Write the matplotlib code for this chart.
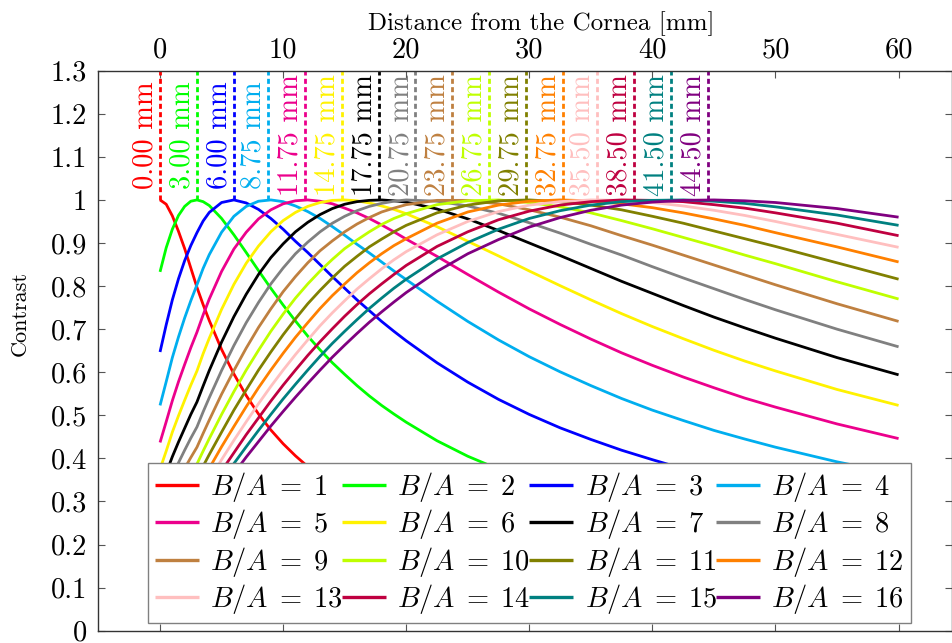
import matplotlib
matplotlib.use("Agg")
import matplotlib.pyplot as plt

plt.rcParams["font.family"] = "cmr10"
plt.rcParams["mathtext.fontset"] = "cm"
plt.rcParams["axes.formatter.use_mathtext"] = True

# distance from the cornea [mm] at which every contrast curve is sampled
distance_mm = [0, 0.5, 1, 1.5, 2, 2.5, 3, 3.5, 4, 5, 6, 7, 8, 9, 10, 11, 12, 13,
               14, 15, 16, 17, 18, 19, 20, 22.5, 25, 27.5, 30, 32.5, 35, 37.5,
               40, 42.5, 45, 47.5, 50, 55, 60]

# contrast for each intensity ratio B/A
contrast_ba1 = [1.000, .990, .963, .927, .887, .842, .797, .757, .720, .653, .596, .546, .503, .466, .434, .406, .381, .359,
                .339, .321, .305, .290, .277, .265, .254, .230, .210, .193, .178, .166, .155, .146, .137, .130, .123, .117,
                .111, .102, .094]
contrast_ba2 = [.833, .889, .932, .964, .985, .997, 1.000, .996, .987, .957, .919, .878, .836, .795, .756, .719, .684, .652,
                .622, .595, .569, .545, .523, .503, .484, .441, .405, .375, .348, .325, .305, .287, .271, .256, .243, .232,
                .221, .202, .187]
contrast_ba3 = [.647, .710, .768, .817, .859, .894, .924, .951, .971, .994, 1.000, .993, .978, .957, .932, .904, .878, .850,
                .822, .795, .768, .743, .718, .695, .673, .622, .577, .537, .502, .471, .444, .419, .397, .376, .358, .341,
                .326, .299, .277]
contrast_ba4 = [.523, .578, .634, .682, .726, .766, .803, .841, .873, .925, .962, .985, .997, 1.000, .996, .986, .973, .957,
                .938, .918, .897, .877, .856, .835, .815, .765, .718, .675, .636, .601, .569, .539, .512, .488, .465, .445,
                .426, .392, .363]
contrast_ba5 = [.437, .485, .534, .578, .618, .657, .693, .733, .770, .834, .886, .925, .956, .977, .991, .998, 1.000, .997,
                .991, .981, .970, .957, .942, .926, .909, .869, .827, .786, .747, .711, .677, .645, .616, .589, .564, .540,
                .519, .480, .446]
contrast_ba6 = [.375, .417, .461, .499, .535, .570, .603, .643, .679, .746, .804, .853, .893, .926, .952, .971, .985, .994,
                .999, 1.000, .998, .993, .986, .978, .968, .938, .904, .870, .835, .801, .768, .736, .706, .678, .651, .626,
                .603, .560, .523]
contrast_ba7 = [.329, .366, .404, .438, .470, .502, .531, .568, .604, .670, .729, .781, .827, .866, .898, .926, .948, .966,
                .980, .990, .996, .999, 1.000, .998, .995, .979, .956, .929, .900, .871, .841, .811, .783, .755, .728, .703,
                .679, .634, .594]
contrast_ba8 = [.293, .325, .360, .390, .419, .447, .473, .508, .541, .604, .662, .715, .762, .805, .842, .875, .902, .926,
                .946, .962, .975, .985, .992, .997, 1.000, .997, .986, .969, .947, .923, .897, .872, .845, .819, .794, .769,
                .745, .700, .659]
contrast_ba9 = [.264, .293, .324, .351, .377, .402, .426, .458, .489, .549, .604, .656, .704, .747, .787, .822, .854, .882,
                .905, .926, .944, .959, .972, .981, .989, .999, .999, .991, .977, .960, .940, .917, .895, .872, .849, .826,
                .803, .759, .718]
contrast_ba10 = [.241, .267, .295, .320, .343, .365, .387, .417, .446, .502, .555, .605, .651, .695, .735, .772, .805, .835,
                 .862, .887, .907, .926, .943, .957, .968, .989, .998, 1.000, .994, .984, .970, .952, .933, .913, .893, .872,
                 .852, .810, .770]
contrast_ba11 = [.221, .245, .271, .293, .314, .335, .354, .382, .409, .461, .512, .559, .605, .647, .687, .724, .759, .790,
                 .819, .846, .869, .891, .909, .926, .941, .970, .988, .998, 1.000, .996, .988, .977, .962, .946, .928, .910,
                 .892, .854, .816]
contrast_ba12 = [.205, .227, .251, .271, .290, .309, .326, .352, .377, .427, .474, .520, .564, .605, .644, .681, .715, .748,
                 .778, .805, .831, .854, .875, .894, .910, .946, .972, .988, .997, 1.000, .998, .991, .982, .970, .956, .941,
                 .924, .891, .856]
contrast_ba13 = [.191, .211, .233, .252, .269, .286, .303, .327, .350, .397, .442, .485, .527, .567, .605, .641, .675, .708,
                 .738, .766, .793, .817, .840, .861, .880, .919, .950, .973, .988, .996, 1.000, .999, .994, .986, .976, .964,
                 .950, .920, .890]
contrast_ba14 = [.178, .197, .217, .235, .251, .267, .282, .304, .327, .371, .413, .455, .494, .533, .570, .605, .639, .671,
                 .701, .730, .757, .782, .805, .827, .848, .892, .926, .954, .974, .988, .996, 1.000, .999, .996, .989, .981,
                 .970, .946, .917]
contrast_ba15 = [.168, .185, .204, .220, .235, .250, .264, .285, .306, .347, .388, .427, .465, .502, .538, .572, .605, .637,
                 .667, .695, .722, .748, .772, .795, .816, .863, .901, .932, .957, .975, .988, .996, .999, 1.000, .997, .992,
                 .984, .965, .941]
contrast_ba16 = [.158, .174, .192, .207, .221, .235, .248, .268, .288, .327, .365, .403, .439, .475, .509, .542, .574, .605,
                 .635, .663, .690, .716, .740, .763, .785, .834, .875, .908, .937, .959, .976, .988, .995, .999, 1.000, .998,
                 .994, .980, .960]

ratios = list(range(1, 17))

# distance of maximum contrast for each ratio [mm]
peak_mm = [0.00, 3.00, 6.00, 8.75, 11.75, 14.75, 17.75, 20.75, 23.75, 26.75,
           29.75, 32.75, 35.50, 38.50, 41.50, 44.50]

colors = ["#ff0000", "#00ff00", "#0000ff", "#00aeef", "#ec008c", "#fff200",
          "#000000", "#808080", "#bf8040", "#bfff00", "#808000", "#ff8000",
          "#ffbfbf", "#bf0040", "#008080", "#800080"]

y_ticks = [0, 0.1, 0.2, 0.3, 0.4, 0.5, 0.6, 0.7, 0.8, 0.9, 1.0, 1.1, 1.2, 1.3]
y_tick_labels = ["0", "0.1", "0.2", "0.3", "0.4", "0.5", "0.6", "0.7", "0.8",
                 "0.9", "1", "1.1", "1.2", "1.3"]
x_ticks = [0, 10, 20, 30, 40, 50, 60]

curves = [contrast_ba1, contrast_ba2, contrast_ba3, contrast_ba4, contrast_ba5,
          contrast_ba6, contrast_ba7, contrast_ba8, contrast_ba9, contrast_ba10,
          contrast_ba11, contrast_ba12, contrast_ba13, contrast_ba14,
          contrast_ba15, contrast_ba16]

fig = plt.figure(figsize=(9.52, 6.43), dpi=100)
ax = fig.add_axes([98 / 952, 12.3 / 643, 853.5 / 952, 560 / 643])

handles = []
for ratio, values, color in zip(ratios, curves, colors):
    line, = ax.plot(distance_mm, values, color=color, lw=2.0,
                    solid_capstyle="butt", solid_joinstyle="round",
                    label=rf"$B/A\;=\;{ratio}$", zorder=3)
    handles.append(line)

# dashed markers at the position of maximum contrast
for d, color in zip(peak_mm, colors):
    ax.plot([d, d], [1.0, 1.3], color=color, lw=2.0,
            linestyle=(0, (1.8, 1.2)), zorder=2)
    ax.annotate(f"{d:.2f} mm", xy=(d, 1.15), xytext=(-1.0, 0),
                textcoords="offset points", rotation=90,
                ha="right", va="center", color=color, fontsize=20.5)

ax.set_xlim(-5.04, 64.3)
ax.set_ylim(0, 1.3)

ax.set_xticks(x_ticks)
ax.set_xticklabels([str(t) for t in x_ticks])
ax.set_yticks(y_ticks)
ax.set_yticklabels(y_tick_labels)

ax.xaxis.set_ticks_position("both")
ax.yaxis.set_ticks_position("both")
ax.tick_params(axis="both", direction="in", length=5, width=0.8,
               color="#555555", labelsize=20.5)
ax.tick_params(axis="x", labeltop=True, labelbottom=False, pad=5)
ax.tick_params(axis="y", labelleft=True, labelright=False, pad=8)

ax.xaxis.set_label_position("top")
ax.set_xlabel("Distance from the Cornea [mm]", fontsize=18)
ax.xaxis.set_label_coords(0.519, 1.072)
ax.set_ylabel("Contrast", fontsize=16)
ax.yaxis.set_label_coords(-0.0797, 0.567)

for spine in ax.spines.values():
    spine.set_color("#333333")
    spine.set_linewidth(1.0)

# legend filled row by row: B/A = 1..4 on the first row
order = [0, 4, 8, 12, 1, 5, 9, 13, 2, 6, 10, 14, 3, 7, 11, 15]
leg = ax.legend(handles=[handles[i] for i in order], loc="lower left",
                bbox_to_anchor=(0.0582, 0.0132, 0.894, 0.3), mode="expand",
                ncol=4, fontsize=20.5, handlelength=1.55, handletextpad=0.4,
                columnspacing=0.2, labelspacing=0.12, borderpad=0.25,
                borderaxespad=0, frameon=True, fancybox=False,
                edgecolor="#808080", framealpha=1)
leg.get_frame().set_linewidth(1.0)
for h in leg.legend_handles:
    h.set_linewidth(2.4)

fig.savefig("out.png", dpi=100)
